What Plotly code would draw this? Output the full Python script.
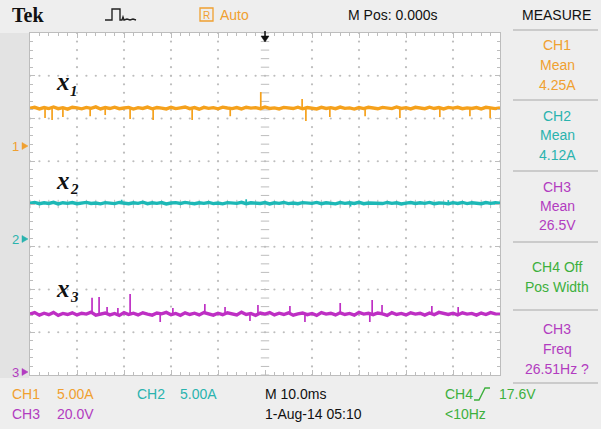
import plotly.graph_objects as go
import numpy as np

time_ms = list(range(-50, 51))  # 10.0 ms/div, 10 divisions

ch1_amps = [4.55,4.64,4.46,4.62,4.50,4.68,4.48,4.60,4.43,4.65,
            4.57,4.47,4.63,4.52,4.70,4.45,4.61,4.50,4.66,4.48,
            4.56,4.63,4.44,4.60,4.51,4.67,4.47,4.62,4.55,4.46,
            4.65,4.49,4.58,4.68,4.48,4.61,4.42,4.64,4.52,4.60,
            4.47,4.66,4.56,4.49,4.62,4.45,4.65,4.55,4.60,4.48,
            4.68,4.51,4.58,4.46,4.63,4.55,4.50,4.66,4.47,4.61,
            4.56,4.45,4.64,4.51,4.60,4.48,4.67,4.52,4.58,4.44,
            4.62,4.50,4.65,4.55,4.47,4.63,4.58,4.49,4.68,4.51,
            4.60,4.46,4.64,4.56,4.48,4.66,4.50,4.61,4.45,4.63,
            4.55,4.65,4.48,4.58,4.51,4.62,4.46,4.64,4.56,4.49,
            4.58]
ch2_amps = [4.20,4.28,4.13,4.24,4.17,4.30,4.11,4.25,4.18,4.27,
            4.14,4.22,4.29,4.16,4.21,4.12,4.26,4.20,4.15,4.28,
            4.22,4.13,4.25,4.18,4.31,4.14,4.24,4.17,4.27,4.11,
            4.21,4.26,4.16,4.29,4.20,4.13,4.24,4.18,4.28,4.15,
            4.22,4.12,4.26,4.21,4.17,4.30,4.14,4.25,4.20,4.16,
            4.27,4.11,4.24,4.18,4.28,4.15,4.22,4.13,4.26,4.20,
            4.17,4.29,4.14,4.25,4.21,4.12,4.27,4.18,4.24,4.16,
            4.30,4.13,4.22,4.20,4.26,4.15,4.28,4.17,4.24,4.11,
            4.21,4.27,4.16,4.25,4.18,4.29,4.14,4.22,4.20,4.12,
            4.26,4.17,4.28,4.15,4.24,4.21,4.13,4.27,4.18,4.25,
            4.20]
ch3_volts = [27.3,28.0,26.8,27.7,27.0,28.1,26.7,27.6,27.1,27.9,
             26.9,27.7,27.3,28.2,26.8,27.4,27.8,26.9,27.6,26.7,
             28.0,27.1,27.7,26.9,27.9,27.3,26.8,27.8,27.4,28.1,
             27.0,27.6,26.7,27.9,27.1,27.7,26.9,28.0,27.3,26.8,
             27.7,27.0,27.9,27.4,26.9,28.2,27.1,27.6,26.7,27.8,
             27.3,28.0,26.9,27.7,27.1,27.9,26.8,27.4,27.8,27.0,
             27.6,26.7,28.0,27.3,27.7,26.9,27.9,27.1,27.6,26.8,
             28.1,27.3,27.7,27.0,27.8,27.4,26.7,28.0,27.1,27.6,
             26.9,27.9,27.3,27.7,26.8,27.8,27.0,28.1,27.4,27.1,
             27.7,26.9,27.9,27.3,27.6,26.8,27.8,27.1,28.0,27.4,
             27.3]

ch1_spike_ms = [-46.8,-45.3,-43.0,-37.2,-34.0,-28.7,-23.8,-15.5,-7.4,-0.9,7.9,8.7,13.8,21.3,28.7,37.2,43.6,47.9]
ch1_spike_amps = [3.39,3.16,3.50,3.60,3.74,3.27,3.16,3.16,3.60,6.43,5.61,3.04,3.50,3.60,3.39,3.50,3.60,3.39]

ch2_spike_ms = [-30.5,-4.0,18.2,39.0]
ch2_spike_amps = [4.60,4.65,3.80,4.55]

ch3_spike_ms = [-36.8,-35.3,-33.6,-31.3,-28.7,-22.3,-19.6,-12.8,-8.5,-3.2,-1.5,5.3,8.5,16.0,22.3,22.8,24.9,35.5,41.1]
ch3_spike_volts = [34.9,35.3,30.6,30.2,36.7,23.6,30.2,32.0,30.6,24.1,31.6,31.1,23.6,32.5,23.6,33.9,31.6,31.1,30.6]

# ---------------- channel settings ----------------
ch1_scale, ch2_scale, ch3_scale = 5.0, 5.0, 20.0     # per division
ch1_gnd, ch2_gnd, ch3_gnd = 1.333, -0.82, -3.94      # ground marker (div)
C_OR, C_CY, C_MG = '#F5A11C', '#1DB8B6', '#BE2FC4'
T_OR, T_CY, T_MG, T_GR = '#F0A030', '#2AB3AE', '#B23CC0', '#3DB03D'

W, H = 601, 429
L, R, T, B = 30, 500, 33, 375
SANS = 'Liberation Sans'
SERIF = 'Liberation Serif'


def pxx(x):
    return (x - L) / (R - L)


def pyy(y):
    return (B - y) / (B - T)


def path(points, close=False):
    s = 'M' + ' L'.join(f'{pxx(x):.5f},{pyy(y):.5f}' for x, y in points)
    return s + (' Z' if close else '')


fig = go.Figure()

# graticule dots
gx, gy = [], []
for xv in range(-40, 50, 10):
    if xv == 0:
        continue
    for yv in np.arange(-4, 4.001, 0.2):
        gx.append(xv); gy.append(yv)
for yv in range(-3, 4):
    if yv == 0:
        continue
    for xv in np.arange(-50, 50.001, 2):
        gx.append(xv); gy.append(yv)
fig.add_trace(go.Scatter(x=gx, y=gy, mode='markers',
                         marker=dict(size=2.2, color='#BDBDBD'), hoverinfo='skip'))
# center crosshair ticks
cy = list(np.arange(-4, 4.001, 0.2))
fig.add_trace(go.Scatter(x=[0] * len(cy), y=cy, mode='markers',
                         marker=dict(symbol='line-ew', size=6, line=dict(width=1, color='#BDBDBD')),
                         hoverinfo='skip'))
cx = list(np.arange(-50, 50.001, 2))
fig.add_trace(go.Scatter(x=cx, y=[0] * len(cx), mode='markers',
                         marker=dict(symbol='line-ns', size=6, line=dict(width=1, color='#BDBDBD')),
                         hoverinfo='skip'))


def add_channel(vals, sp_t, sp_v, scale, gnd, color):
    vals = np.array(vals)
    ydiv = vals / scale + gnd
    fig.add_trace(go.Scatter(x=time_ms, y=ydiv, mode='lines',
                             line=dict(color=color, width=3.4), hoverinfo='skip'))
    sx, sy = [], []
    for t, v in zip(sp_t, sp_v):
        base = np.interp(t, time_ms, vals)
        sx += [t, t, None]
        sy += [base / scale + gnd, v / scale + gnd, None]
    fig.add_trace(go.Scatter(x=sx, y=sy, mode='lines',
                             line=dict(color=color, width=1.7), hoverinfo='skip'))


add_channel(ch1_amps, ch1_spike_ms, ch1_spike_amps, ch1_scale, ch1_gnd, C_OR)
add_channel(ch2_amps, ch2_spike_ms, ch2_spike_amps, ch2_scale, ch2_gnd, C_CY)
add_channel(ch3_volts, ch3_spike_ms, ch3_spike_volts, ch3_scale, ch3_gnd, C_MG)

ann = []


def txt(s, x, y, color, size=14, xanchor='center', family=SANS):
    ann.append(dict(text=s, x=pxx(x), y=pyy(y), xref='paper', yref='paper',
                    showarrow=False, xanchor=xanchor, yanchor='middle',
                    font=dict(color=color, size=size, family=family)))


# top bar
txt('<b>Tek</b>', 10, 15, '#111111', size=20, xanchor='left', family=SERIF)
txt('Auto', 218, 15, T_OR, size=14, xanchor='left')
txt('R', 206.5, 15, T_OR, size=10)
txt('M Pos: 0.000s', 393, 15, '#111111', size=14)
txt('MEASURE', 556, 15, '#111111', size=14)

# right panel
panel = [
    ('CH1', 45, T_OR), ('Mean', 65, T_OR), ('4.25A', 85, T_OR),
    ('CH2', 116, T_CY), ('Mean', 135, T_CY), ('4.12A', 155, T_CY),
    ('CH3', 187, T_MG), ('Mean', 206, T_MG), ('26.5V', 225, T_MG),
    ('CH4 Off', 267, T_GR), ('Pos Width', 287, T_GR),
    ('CH3', 329, T_MG), ('Freq', 349, T_MG), ('26.51Hz ?', 369, T_MG),
]
for s, y, c in panel:
    txt(s, 557, y, c, size=14)

# bottom bar
txt('CH1', 10, 394, T_OR, xanchor='left')
txt('5.00A', 55, 394, T_OR, xanchor='left')
txt('CH2', 135, 394, T_CY, xanchor='left')
txt('5.00A', 178, 394, T_CY, xanchor='left')
txt('M 10.0ms', 263, 394, '#111111', xanchor='left')
txt('CH4', 443, 394, T_GR, xanchor='left')
txt('17.6V', 497, 394, T_GR, xanchor='left')
txt('CH3', 10, 414, T_MG, xanchor='left')
txt('20.0V', 55, 414, T_MG, xanchor='left')
txt('1-Aug-14 05:10', 263, 414, '#111111', xanchor='left')
txt('<10Hz', 443, 414, T_GR, xanchor='left')

# ground markers (number + small arrow head drawn as a shape)
gnd_marks = [('1', 146, T_OR), ('2', 239, T_CY), ('3', 372, T_MG)]
for s, y, c in gnd_marks:
    txt(s, 21, y, c, size=13, xanchor='right')

# trace labels: italic bold x with a subscript
for lab, y in (('1', 82), ('2', 180), ('3', 288)):
    txt('<b><i>x</i></b>', 54, y, '#111111', size=25, xanchor='left', family=SERIF)
    txt(f'<b><i>{lab}</i></b>', 68, y + 9, '#111111', size=15, xanchor='left', family=SERIF)

shapes = []
# left strip
shapes.append(dict(type='rect', xref='paper', yref='paper', x0=pxx(0), x1=pxx(L - 1),
                   y0=pyy(378), y1=pyy(T), fillcolor='#E3E3E3', line=dict(width=0), layer='below'))
# ground arrow heads
for s, y, c in gnd_marks:
    shapes.append(dict(type='path', xref='paper', yref='paper',
                       path=path([(22, y - 3.5), (28, y), (22, y + 3.5)], close=True),
                       fillcolor=c, line=dict(color=c, width=0.5)))
# right panel separators
for y in (30, 100, 171, 242, 310, 383):
    shapes.append(dict(type='line', xref='paper', yref='paper', x0=pxx(513), x1=pxx(598),
                       y0=pyy(y), y1=pyy(y), line=dict(color='#A8A8A8', width=1)))
# trigger pulse icon
shapes.append(dict(type='path', xref='paper', yref='paper',
                   path=path([(105, 20), (112, 20), (112, 9), (120, 9), (120, 20), (122, 20),
                              (123, 17), (124, 20), (127, 19), (130, 20), (133, 19), (136, 20)]),
                   line=dict(color='#222222', width=1.4)))
# R box
shapes.append(dict(type='rect', xref='paper', yref='paper', x0=pxx(200), x1=pxx(213),
                   y0=pyy(21), y1=pyy(8), line=dict(color=T_OR, width=1.3)))
# trigger position arrow
shapes.append(dict(type='path', xref='paper', yref='paper',
                   path=path([(265, 31), (265, 38)]), line=dict(color='#111111', width=1.5)))
shapes.append(dict(type='path', xref='paper', yref='paper',
                   path=path([(261, 36), (269, 36), (265, 42)], close=True),
                   fillcolor='#111111', line=dict(color='#111111', width=0.5)))
# trigger slope icon
shapes.append(dict(type='path', xref='paper', yref='paper',
                   path=path([(474, 400), (479, 400), (485, 388), (490, 388)]),
                   line=dict(color=T_GR, width=1.4)))

fig.update_layout(
    width=W, height=H,
    margin=dict(l=L, r=W - R, t=T, b=H - B),
    paper_bgcolor='#EEEEEE', plot_bgcolor='#FFFFFF',
    showlegend=False,
    annotations=ann, shapes=shapes,
    xaxis=dict(range=[-50, 50], showgrid=False, zeroline=False, showticklabels=False,
               showline=True, linecolor='#BDBDBD', linewidth=1, mirror='ticks',
               ticks='inside', dtick=10, ticklen=5, tickcolor='#BDBDBD',
               minor=dict(ticks='inside', dtick=2, ticklen=3, tickcolor='#BDBDBD')),
    yaxis=dict(range=[-4, 4], showgrid=False, zeroline=False, showticklabels=False,
               showline=True, linecolor='#BDBDBD', linewidth=1, mirror='ticks',
               ticks='inside', dtick=1, ticklen=5, tickcolor='#BDBDBD',
               minor=dict(ticks='inside', dtick=0.2, ticklen=3, tickcolor='#BDBDBD')),
)

fig.write_html('out.html')
